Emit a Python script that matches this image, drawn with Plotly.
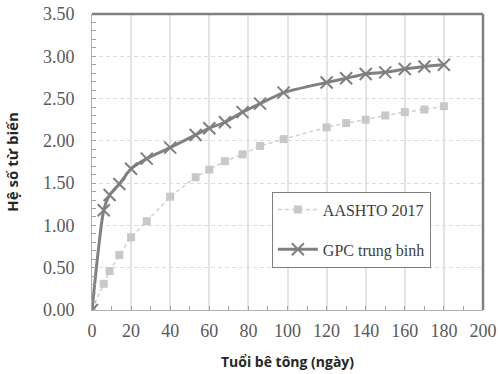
import plotly.graph_objects as go

days = [0, 6, 9, 14, 20, 28, 40, 53, 60, 68, 77, 86, 98, 120, 130, 140, 150, 160, 170, 180]
aashto = [0, 0.31, 0.46, 0.65, 0.86, 1.05, 1.34, 1.57, 1.66, 1.76, 1.84, 1.94, 2.02, 2.16, 2.21, 2.25, 2.30, 2.34, 2.37, 2.41]
gpc = [0, 1.18, 1.36, 1.49, 1.67, 1.79, 1.92, 2.07, 2.15, 2.22, 2.34, 2.44, 2.57, 2.69, 2.74, 2.79, 2.81, 2.85, 2.88, 2.90]
x_ticks = list(range(0, 201, 20))
y_ticks = [0, 0.5, 1.0, 1.5, 2.0, 2.5, 3.0, 3.5]

fig = go.Figure()
fig.add_trace(go.Scatter(
    x=days, y=aashto, name="AASHTO 2017", mode="lines+markers",
    line=dict(color="#d0d0d0", width=1.5, dash="4px,3px"),
    marker=dict(symbol="square", size=8, color="#c8c8c8"),
    legendgroup="a"))
fig.add_trace(go.Scatter(
    x=days, y=gpc, name="GPC trung binh", mode="lines+markers",
    line=dict(color="#808080", width=3, shape="spline", smoothing=0.6),
    marker=dict(symbol="x-thin", size=12, line=dict(color="#7f7f7f", width=2), color="#7f7f7f"),
    legendgroup="b"))

serif = "Liberation Serif, Times New Roman, serif"
fig.update_layout(
    width=498, height=374,
    margin=dict(l=92, r=15, t=14, b=64),
    plot_bgcolor="white", paper_bgcolor="white",
    showlegend=True,
    legend=dict(x=0.46, y=0.40, xanchor="left", yanchor="top",
                bordercolor="#7f7f7f", borderwidth=1, bgcolor="white",
                font=dict(family=serif, size=16, color="#404040"),
                traceorder="grouped", tracegroupgap=16,
                itemwidth=40),
    xaxis=dict(range=[0, 200], tickvals=x_ticks, ticks="inside", ticklen=4,
               tickcolor="#a0a0a0", showline=True, linecolor="#b0b0b0", linewidth=1,
               showgrid=True, gridcolor="#e4e4e4", gridwidth=1.5, zeroline=False,
               automargin=False, ticklabeloverflow="allow",
               minor=dict(dtick=10, ticks="inside", ticklen=4, tickcolor="#a0a0a0", showgrid=False),
               tickfont=dict(family=serif, size=18, color="#595959"),
               ticklabelstandoff=4,
               title=dict(text="<b>Tuổi bê tông (ngày)</b>", standoff=17,
                          font=dict(family="Open Sans", size=14, color="#262626"))),
    yaxis=dict(range=[0, 3.5], tickvals=y_ticks, tickformat=".2f", ticks="inside", ticklen=4,
               tickcolor="#a0a0a0", showline=True, linecolor="#b0b0b0", linewidth=1,
               showgrid=True, gridcolor="#dcdcdc", griddash="4px,3px", gridwidth=1,
               zeroline=False, automargin=False, ticklabeloverflow="allow",
               minor=dict(dtick=0.1, ticks="inside", ticklen=4, tickcolor="#a0a0a0", showgrid=False),
               tickfont=dict(family=serif, size=18, color="#595959"),
               ticklabelstandoff=13,
               title=dict(text="<b>Hệ số từ biến</b>", standoff=20,
                          font=dict(family="Open Sans", size=15, color="#262626"))),
    shapes=[
        dict(type="line", xref="paper", yref="paper", x0=0, x1=1, y0=1, y1=1,
             line=dict(color="#808080", width=2.5)),
        dict(type="line", xref="paper", yref="paper", x0=1, x1=1, y0=0, y1=1,
             line=dict(color="#808080", width=2.5)),
    ],
)

fig.write_html("out.html",
               config={"displayModeBar": False},
               post_script="document.body.style.margin='0';document.documentElement.style.overflow='hidden';")
